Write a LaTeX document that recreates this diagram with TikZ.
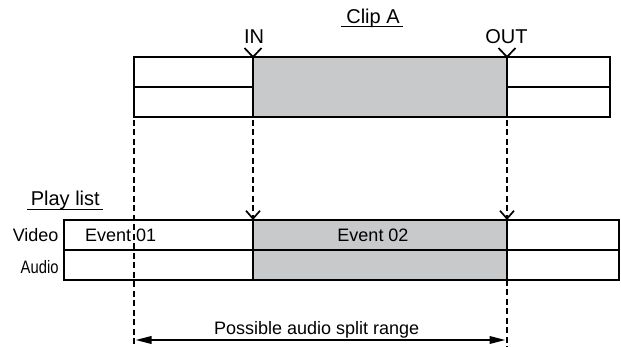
\documentclass[tikz,border=0pt]{standalone}
\usepackage{fontspec}
\setmainfont{Liberation Sans}
\usetikzlibrary{arrows.meta}
\definecolor{cellgray}{RGB}{200,201,203}
\begin{document}
\begin{tikzpicture}[x=1pt,y=1pt,
  cell/.style={draw=black,line width=2.1pt,fill=white,inner sep=0pt,outer sep=0pt,
    minimum height=30pt,anchor=south west},
  graycell/.style={cell,fill=cellgray},
  txt/.style={inner sep=0pt,outer sep=0pt,font=\fontsize{18}{20}\selectfont},
  bigtxt/.style={inner sep=0pt,outer sep=0pt,font=\fontsize{20}{22}\selectfont},
  uline/.style={line width=1.5pt},
  dline/.style={line width=2pt,dash pattern=on 6pt off 3.5pt},
  barb/.style={-{Straight Barb[length=8pt,width=14pt,line width=1.7pt]}},
  vmk/.style={line width=1.7pt},
  rng/.style={line width=2pt,{Triangle[length=16pt,width=7.5pt]}-{Triangle[length=16pt,width=7.5pt]}}
]
\useasboundingbox (0,0) rectangle (621,347);
% Clip A
\node[graycell,minimum width=254pt,minimum height=60pt] (cMid) at (253,230) {};
\node[cell,minimum width=119pt] (cLV) at (134,260) {};
\node[cell,minimum width=119pt] (cLA) at (134,230) {};
\node[cell,minimum width=103pt] (cRV) at (507,260) {};
\node[cell,minimum width=103pt] (cRA) at (507,230) {};
% Play list
\node[graycell,minimum width=254pt] (pMV) at (253,97) {};
\node[graycell,minimum width=254pt] (pMA) at (253,67) {};
\node[cell,minimum width=189pt] (pLV) at (64,97) {};
\node[cell,minimum width=189pt] (pLA) at (64,67) {};
\node[cell,minimum width=112pt] (pRV) at (507,97) {};
\node[cell,minimum width=112pt] (pRA) at (507,67) {};
% labels
\node[bigtxt,anchor=base] (clipA) at (373,323.7) {Clip A};
\draw[uline] ([xshift=-5pt,yshift=-3.4pt]clipA.base west) -- ([xshift=3pt,yshift=-3.4pt]clipA.base east);
\node[bigtxt,anchor=base] (inl) at (254,303.7) {IN};
\node[bigtxt,anchor=base] (outl) at (506.5,303.7) {OUT};
\node[bigtxt,anchor=base] (plist) at (65.3,141) {Play list};
\draw[uline] ([xshift=-4pt,yshift=-3.4pt]plist.base west) -- ([xshift=3pt,yshift=-3.4pt]plist.base east);
\node[txt,anchor=base east] (vid) at (58.5,105) {Video};
\node[txt,anchor=base east] (aud) at (58.5,73.7) {\scalebox{0.82}[1]{Audio}};
\node[txt,anchor=base west] (ev1) at (85,105) {Event 01};
\node[txt,anchor=base] (ev2) at (373,105) {Event 02};
\node[txt,anchor=base] (rangel) at (316.7,12) {Possible audio split range};
% V marks
\draw[vmk] (cMid.north west) ++(-8.5,9) -- (cMid.north west) -- ++(8.5,9);
\draw[vmk] (cMid.north east) ++(-8.5,9) -- (cMid.north east) -- ++(8.5,9);
% dashed lines
\coordinate (botL) at (134,0);
\coordinate (botR) at (507,0);
\coordinate (arL) at (135.5,7);
\coordinate (arR) at (505.5,7);
\draw[dline] ([yshift=-3pt]cLA.south west) -- (botL);
\draw[dline,barb] ([yshift=-3pt]cMid.south west) -- (pMV.north west);
\draw[dline,barb] ([yshift=-3pt]cMid.south east) -- (pMV.north east);
\draw[dline] (pMA.south east) -- (botR);
\draw[rng] (arL) -- (arR);
\end{tikzpicture}
\end{document}
